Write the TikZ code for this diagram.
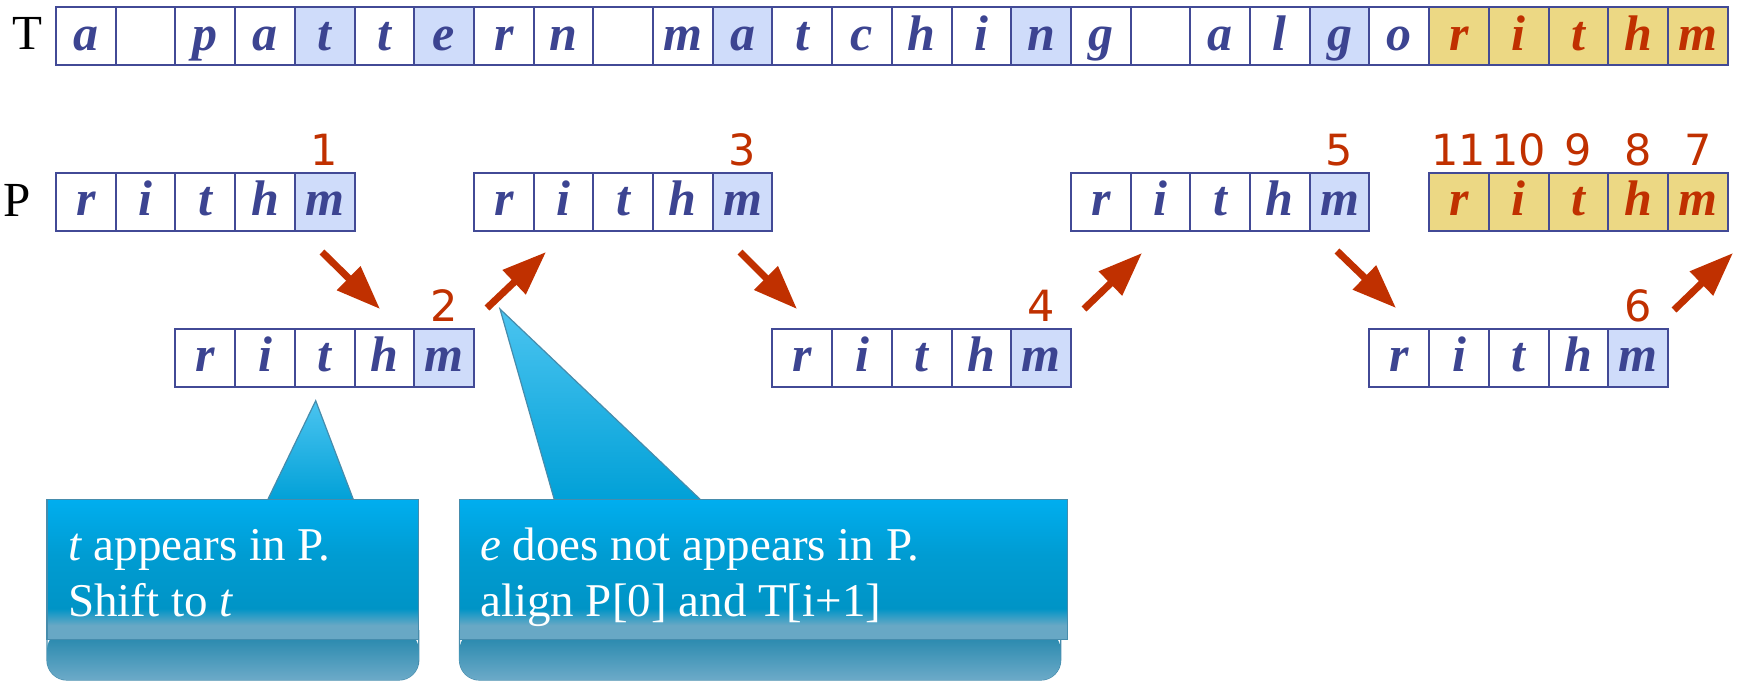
\documentclass[tikz,border=0pt]{standalone}
\usepackage{fontspec}
\setmainfont{Liberation Serif}
\newfontfamily\numfont{DejaVu Sans}
\usetikzlibrary{arrows.meta}
\definecolor{cellborder}{RGB}{66,74,150}
\definecolor{letterblue}{RGB}{60,68,145}
\definecolor{hlblue}{RGB}{207,220,250}
\definecolor{hlgold}{RGB}{236,216,132}
\definecolor{redc}{RGB}{192,48,0}
\definecolor{ctop}{RGB}{0,174,239}
\definecolor{cmid}{RGB}{0,156,210}
\definecolor{cmidd}{RGB}{0,148,198}
\definecolor{cgrey}{RGB}{104,168,197}
\definecolor{bandtop}{RGB}{30,132,170}
\definecolor{bandbot}{RGB}{108,170,200}
\definecolor{tailtop}{RGB}{75,196,240}
\definecolor{tailbot}{RGB}{0,160,215}
\definecolor{coutline}{RGB}{70,140,172}
\pgfdeclareverticalshading{calmain}{100bp}{color(0bp)=(cgrey); color(25bp)=(cgrey); color(30bp)=(cgrey); color(36bp)=(cmidd); color(55bp)=(cmid); color(75bp)=(ctop); color(100bp)=(ctop)}
\tikzset{
  cell/.style={draw=cellborder, line width=2pt, minimum width=59.7pt, minimum height=58.3pt,
    inner sep=0pt, text height=34pt, text depth=5.4pt, anchor=north west,
    font=\fontsize{50}{60}\selectfont\bfseries\itshape, text=letterblue},
  cw/.style={fill=white},
  cb/.style={fill=hlblue},
  cg/.style={fill=hlgold, text=redc},
  pn/.style={cw}, mn/.style={cb}, pg/.style={cg}, mg/.style={cg},
  lbl/.style={font=\fontsize{49}{58}\selectfont, inner sep=0pt, anchor=base},
  num/.style={font=\numfont\fontsize{43}{50}\selectfont, text=redc, inner sep=0pt, anchor=base},
  redarrow/.style={draw=redc, line width=7pt, -{Triangle[length=44pt,width=32pt]}},
  ctext/.style={font=\fontsize{47}{56}\selectfont, text=white, inner sep=0pt, anchor=base west},
  cout/.style={draw=coutline, line width=1.2pt},
}
\begin{document}
\begin{tikzpicture}[x=1pt,y=-1pt]
\useasboundingbox (0,0) rectangle (1738,681);

% labels
\node[lbl] (Tlabel) at (27,49.3) {T};
\node[lbl] (Plabel) at (17,216) {P};

% text row
\foreach \l/\s [count=\i from 0] in {a/w,\relax/w,p/w,a/w,t/b,t/w,e/b,r/w,n/w,\relax/w,m/w,a/b,t/w,c/w,h/w,i/w,n/b,g/w,\relax/w,a/w,l/w,g/b,o/w,r/g,i/g,t/g,h/g,m/g}
  \node[cell,c\s] (T\i) at ({55+\i*59.7},6) {\l};

% pattern rows
\foreach \n/\st/\y/\sty in {1/0/171.5/n,2/2/327.5/n,3/7/171.5/n,4/12/327.5/n,5/17/171.5/n,6/22/327.5/n,7/23/171.5/g}{
  \foreach \l [count=\j from 0] in {r,i,t,h}
    \node[cell,p\sty] (P\n-\j) at ({55+(\st+\j)*59.7},\y) {\l};
  \node[cell,m\sty] (P\n-4) at ({55+(\st+4)*59.7},\y) {m};
}

% step numbers
\foreach \n in {1,...,6}
  \node[num] (num\n) at ([yshift=6pt]P\n-4.north) {\n};
\node[num] (num11) at ([yshift=6pt]P7-0.north) {11};
\node[num] (num10) at ([yshift=6pt]P7-1.north) {10};
\node[num] (num9) at ([yshift=6pt]P7-2.north) {9};
\node[num] (num8) at ([yshift=6pt]P7-3.north) {8};
\node[num] (num7) at ([yshift=6pt]P7-4.north) {7};

% arrows
\coordinate (a1s) at (322,252); \coordinate (a1e) at (380,309);
\coordinate (a2s) at (487,308); \coordinate (a2e) at (546,252);
\coordinate (a3s) at (740,252); \coordinate (a3e) at (797,309);
\coordinate (a4s) at (1084,309); \coordinate (a4e) at (1142,253);
\coordinate (a5s) at (1337,251); \coordinate (a5e) at (1396,308);
\coordinate (a6s) at (1674,310); \coordinate (a6e) at (1733,253);
\foreach \k in {1,...,6}
  \draw[redarrow] (a\k s) -- (a\k e);

% callout 1
\shade[cout, top color=tailtop, bottom color=tailbot] (266.6,502) -- (315.7,400.7) -- (354.3,502) -- cycle;
\draw[cout, rounded corners=20pt] (47,630) -- (47,680) -- (418.8,680) -- (418.8,630);
\shade[top color=bandtop, bottom color=bandbot, rounded corners=20pt] (47,630) -- (47,680) -- (418.8,680) -- (418.8,630) -- cycle;
\shade[cout, shading=calmain] (47,499.3) rectangle (418.8,639.3);
\node[ctext] (c1a) at (68,560) {\textit{t} appears in P.};
\node[ctext] (c1b) at (68,616) {Shift to \textit{t}};

% callout 2
\shade[cout, top color=tailtop, bottom color=tailbot] (555,502) -- (500,309) -- (703,502) -- cycle;
\draw[cout, rounded corners=20pt] (459.5,630) -- (459.5,680) -- (1060.7,680) -- (1060.7,630);
\shade[top color=bandtop, bottom color=bandbot, rounded corners=20pt] (459.5,630) -- (459.5,680) -- (1060.7,680) -- (1060.7,630) -- cycle;
\shade[cout, shading=calmain] (459.5,499.3) rectangle (1067.7,639.3);
\node[ctext] (c2a) at (480,560) {\textit{e} does not appears in P.};
\node[ctext] (c2b) at (480,616) {align P[0] and T[i+1]};
\end{tikzpicture}
\end{document}
